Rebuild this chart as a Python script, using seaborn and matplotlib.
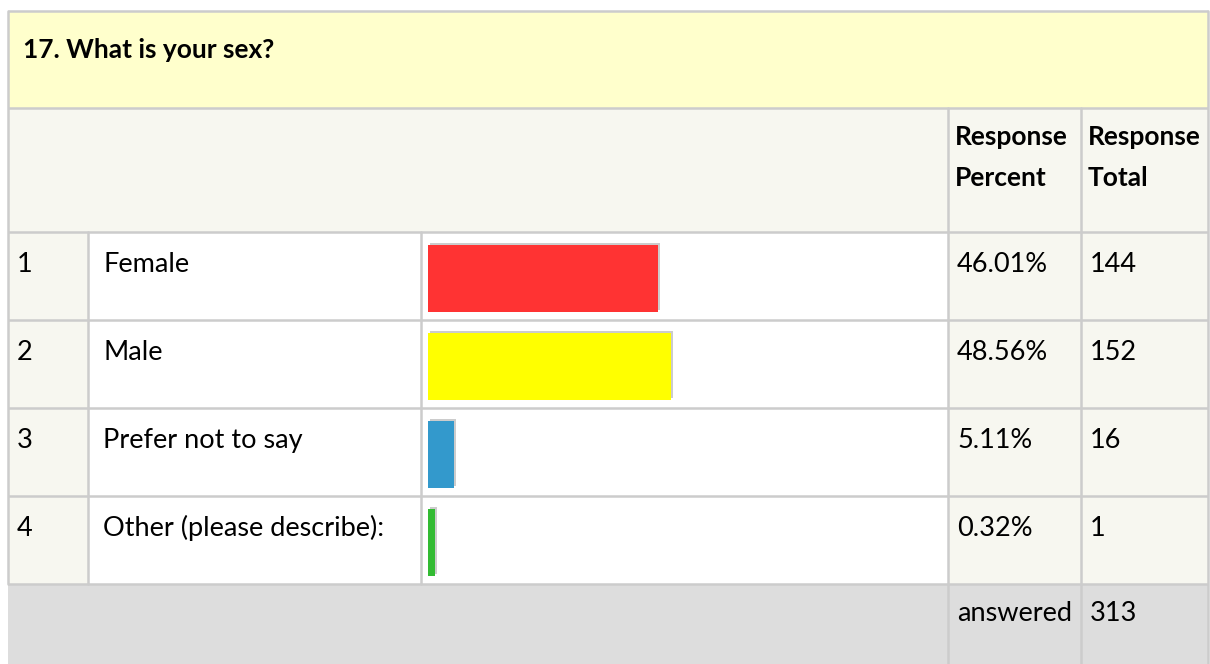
import numpy as np
import matplotlib
matplotlib.use("Agg")
import matplotlib.pyplot as plt
import matplotlib.patheffects as pe
from matplotlib.patches import Rectangle
import seaborn as sns

# data
question = "17. What is your sex?"
nums = [1, 2, 3, 4]
labels = ["Female", "Male", "Prefer not to say", "Other (please describe):"]
percent = [46.01, 48.56, 5.11, 0.32]
totals = [144, 152, 16, 1]
answered = 313
bar_colors = ["#FF3333", "#FFFF00", "#3399CC", "#33BB33"]

################################################################################
# style
sns.set_theme(style="white")
plt.rcParams["font.family"] = ["Lato", "DejaVu Sans"]
plt.rcParams["text.color"] = "black"

W, H = 1210, 664
BORDER = "#CCCCCC"
PALE = "#F7F7F0"
FS = 19.5
FSB = 19

fig = plt.figure(figsize=(W / 100, H / 100), dpi=100)
ax = fig.add_axes([0, 0, 1, 1])
ax.set_xlim(0, W)
ax.set_ylim(H, 0)
ax.axis("off")

# table grid (pixel units)
left, right = 8, 1208
top, title_bot, head_bot = 11, 108, 232
row_h = 88
rows_top = [head_bot + i * row_h for i in range(len(labels))]
foot_top = head_bot + len(labels) * row_h
col_num, col_lab, col_pct, col_tot = 88, 421, 948, 1081


def cell(x0, x1, y0, y1, color):
    ax.add_patch(Rectangle((x0, y0), x1 - x0, y1 - y0, color=color, lw=0, zorder=0))


cell(left, right, top, title_bot, "#FFFFCC")
cell(left, right, title_bot, head_bot, PALE)
for rt in rows_top:
    cell(left, col_num, rt, rt + row_h, PALE)
    cell(col_num, col_pct, rt, rt + row_h, "white")
    cell(col_pct, right, rt, rt + row_h, PALE)
cell(left, right, foot_top, H, "#DDDDDD")

lw = 1.8
for y in [top, title_bot] + rows_top + [foot_top]:
    ax.plot([left, right], [y, y], color=BORDER, lw=lw, zorder=1, solid_capstyle="butt")
ax.plot([left, left], [top, foot_top], color=BORDER, lw=lw, zorder=1)
ax.plot([right, right], [top, H], color=BORDER, lw=lw, zorder=1)
for x in (col_num, col_lab):
    ax.plot([x, x], [head_bot, foot_top], color=BORDER, lw=lw, zorder=1)
for x in (col_pct, col_tot):
    ax.plot([x, x], [title_bot, H], color=BORDER, lw=lw, zorder=1)

# texts
ax.text(23, 58, question, fontsize=FSB, fontweight="bold", va="baseline")
ax.text(955, 145, "Response", fontsize=FSB, fontweight="bold", va="baseline")
ax.text(955, 186, "Percent", fontsize=FSB, fontweight="bold", va="baseline")
ax.text(1088, 145, "Response", fontsize=FSB, fontweight="bold", va="baseline")
ax.text(1088, 186, "Total", fontsize=FSB, fontweight="bold", va="baseline")

for rt, n, lab, p, t in zip(rows_top, nums, labels, percent, totals):
    yb = rt + 40
    ax.text(17, yb, str(n), fontsize=FS, va="baseline")
    ax.text(103, yb, lab, fontsize=FS, va="baseline")
    ax.text(957, yb, f"{p:.2f}%", fontsize=FS, va="baseline")
    ax.text(1090, yb, str(t), fontsize=FS, va="baseline")

ax.text(957, foot_top + 37, "answered", fontsize=FS, va="baseline")
ax.text(1090, foot_top + 37, str(answered), fontsize=FS, va="baseline")

################################################################################
# bars: own axes over the bar column, 0-100 % across 500 px
bar_x0, bar_w = 428, 500
bax = fig.add_axes([bar_x0 / W, (H - foot_top) / H, bar_w / W, (foot_top - head_bot) / H])
MIN_BAR_PCT = 1.4  # tiny values still get a visible sliver
shown = np.maximum(percent, MIN_BAR_PCT)
sns.barplot(x=shown, y=labels, hue=labels, palette=bar_colors, legend=False,
            orient="h", width=0.76, saturation=1, linewidth=0, ax=bax)
bax.set_xlim(0, 100)
bax.set_ylim(len(labels) - 0.5 - 0.03, -0.5 - 0.03)
bax.axis("off")
bax.patch.set_alpha(0)
shadow = [pe.SimplePatchShadow(offset=(1.5, 1.5), shadow_rgbFace=BORDER, alpha=1), pe.Normal()]
for patch in bax.patches:
    patch.set_path_effects(shadow)

fig.savefig("out.png", dpi=100)
